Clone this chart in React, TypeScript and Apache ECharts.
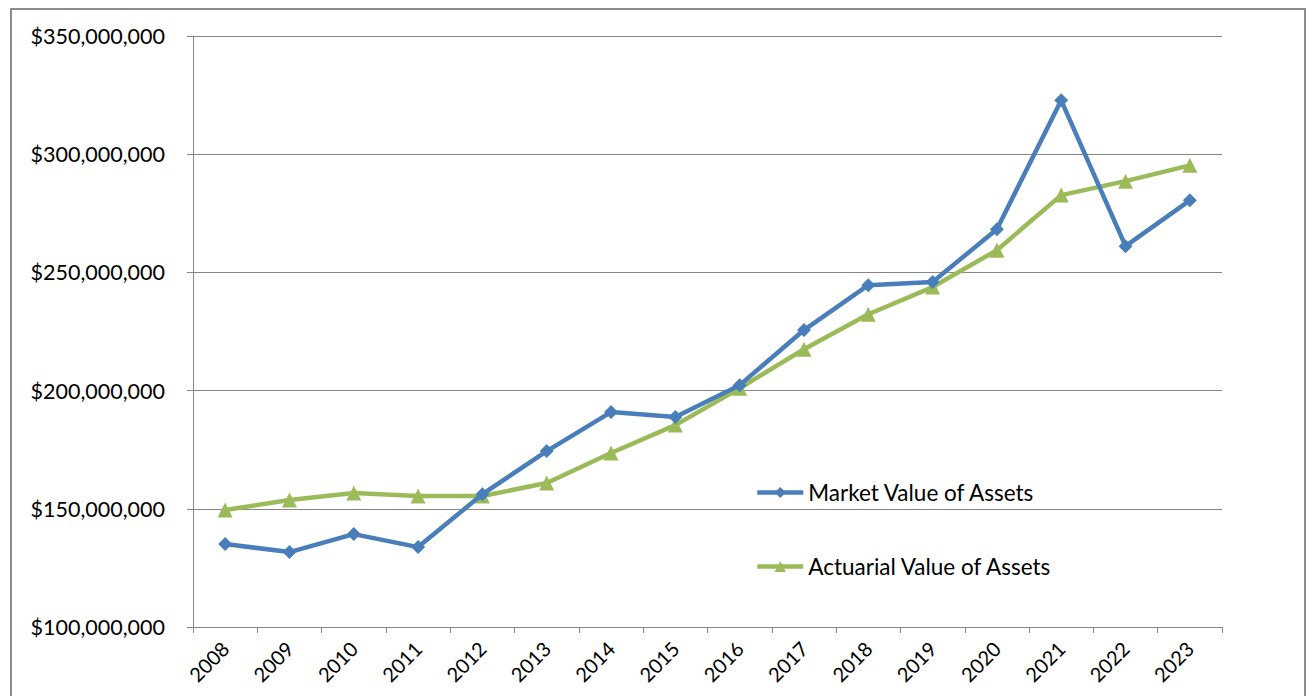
import React, { useEffect, useRef } from "react";
import * as echarts from "echarts";

const years = ["2008", "2009", "2010", "2011", "2012", "2013", "2014", "2015", "2016", "2017", "2018", "2019", "2020", "2021", "2022", "2023"];
const marketValue = [135.1, 131.7, 139.3, 133.8, 156.2, 174.4, 190.9, 188.8, 202.3, 225.6, 244.6, 245.9, 268.3, 322.8, 261.1, 280.5].map((v) => v * 1e6);
const actuarialValue = [149.5, 153.7, 156.7, 155.4, 155.4, 160.9, 173.6, 185.4, 201.0, 217.5, 232.3, 243.8, 259.4, 282.7, 288.6, 295.3].map((v) => v * 1e6);

const FONT = "Lato";

function fmt(v: number) {
  return "$" + Math.round(v).toLocaleString("en-US");
}

export default function App() {
  const ref = useRef<HTMLDivElement>(null);
  useEffect(() => {
    const chart = echarts.init(ref.current!, undefined, { renderer: "svg" });
    chart.setOption({
      animation: false,
      backgroundColor: "#ffffff",
      textStyle: { fontFamily: FONT },
      graphic: [
        {
          type: "rect",
          shape: { x: 11, y: 9, width: 1294, height: 720 },
          style: { fill: "none", stroke: "#8c8c8c", lineWidth: 2 },
          silent: true,
        },
      ],
      grid: { left: 193, top: 36, right: 87, bottom: 69, containLabel: false },
      legend: {
        orient: "vertical",
        left: 750,
        top: 476,
        itemGap: 51,
        itemWidth: 46,
        itemHeight: 14,
        lineStyle: { width: 4.5 },
        textStyle: { fontFamily: FONT, fontSize: 22.5, color: "#000" },
        data: ["Market Value of Assets", "Actuarial Value of Assets"],
      },
      xAxis: {
        type: "category",
        data: years,
        boundaryGap: true,
        axisLine: { lineStyle: { color: "#868686", width: 1 } },
        axisTick: { show: true, length: 6, alignWithLabel: false, lineStyle: { color: "#868686" } },
        axisLabel: { rotate: 45, fontSize: 20, color: "#000", fontFamily: FONT, margin: 18, interval: 0 },
        splitLine: { show: false },
      },
      yAxis: {
        type: "value",
        min: 100000000,
        max: 350000000,
        interval: 50000000,
        axisLine: { show: true, lineStyle: { color: "#868686", width: 1 } },
        axisTick: { show: true, length: 6, lineStyle: { color: "#868686" } },
        axisLabel: { formatter: fmt, fontSize: 21.5, color: "#000", fontFamily: FONT, margin: 28 },
        splitLine: { show: true, lineStyle: { color: "#868686", width: 1 } },
      },
      series: [
        {
          name: "Market Value of Assets",
          type: "line",
          data: marketValue,
          symbol: "diamond",
          symbolSize: 14,
          lineStyle: { color: "#4a7ebb", width: 4.5 },
          itemStyle: { color: "#4a7ebb" },
          z: 3,
        },
        {
          name: "Actuarial Value of Assets",
          type: "line",
          data: actuarialValue,
          symbol: "triangle",
          symbolSize: 15,
          lineStyle: { color: "#9bbb59", width: 4.5 },
          itemStyle: { color: "#9bbb59" },
          z: 2,
        },
      ],
    });
    return () => chart.dispose();
  }, []);
  return (
    <div
      ref={ref}
      style={{ position: "fixed", left: 0, top: 0, width: 1309, height: 696 }}
    />
  );
}
